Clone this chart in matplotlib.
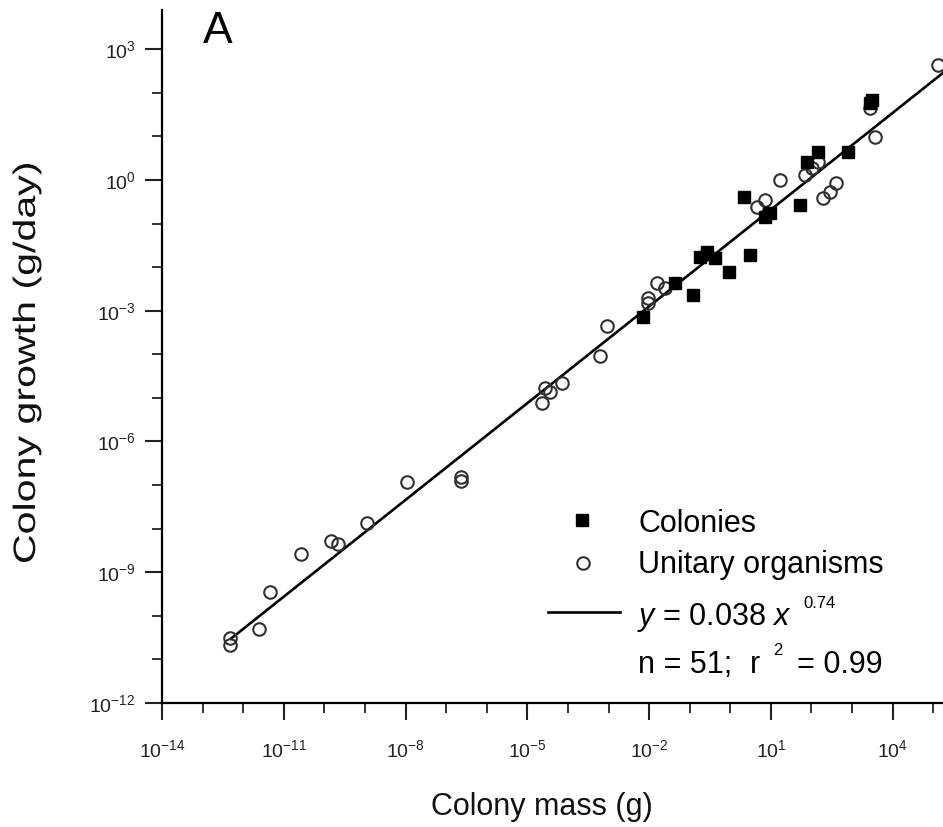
import numpy as np
import matplotlib
matplotlib.use("Agg")
import matplotlib.pyplot as plt
from matplotlib.ticker import FixedLocator, NullFormatter
from matplotlib.textpath import TextPath
from matplotlib.patches import PathPatch
from matplotlib.font_manager import FontProperties
from matplotlib.transforms import Affine2D

plt.rcParams['font.family'] = ['Liberation Sans', 'DejaVu Sans']
plt.rcParams['mathtext.fontset'] = 'custom'
plt.rcParams['mathtext.rm'] = 'Liberation Sans'
plt.rcParams['mathtext.it'] = 'Liberation Sans:italic'

# log10 of mass (g) and growth (g/day)
colony_log_mass = [-2.15, -1.36, -0.92, -0.75, -0.58, -0.38, -0.03, 0.33, 0.48,
                   0.85, 0.98, 1.71, 1.89, 2.16, 2.90, 3.44, 3.49]
colony_log_growth = [-3.15, -2.37, -2.64, -1.77, -1.66, -1.79, -2.11, -0.39, -1.72,
                     -0.85, -0.76, -0.58, 0.41, 0.64, 0.64, 1.76, 1.83]

unitary_log_mass = [-12.33, -12.33, -11.61, -11.34, -10.58, -9.84, -9.67, -8.95,
                    -7.97, -6.64, -6.64, -4.64, -4.57, -4.44, -4.15, -3.21, -3.04,
                    -2.03, -2.03, -1.81, -1.61, 0.66, 0.85, 1.22, 1.84, 2.01, 2.16,
                    2.28, 2.45, 2.60, 3.44, 3.56, 5.11]
unitary_log_growth = [-10.51, -10.67, -10.30, -9.45, -8.58, -8.28, -8.35, -7.87,
                      -6.93, -6.82, -6.91, -5.12, -4.78, -4.87, -4.66, -4.04, -3.35,
                      -2.71, -2.83, -2.37, -2.48, -0.62, -0.46, 0.00, 0.11, 0.27, 0.41,
                      -0.42, -0.28, -0.07, 1.65, 0.98, 2.63]

fit_coef = 0.038
fit_exp = 0.74
fit_log_mass_start = -12.3

x_major = [-14, -11, -8, -5, -2, 1, 4]
y_major = [-12, -9, -6, -3, 0, 3]

W, H = 943, 827


def fx(px):
    return px / W


def fy(py):
    # pixel rows counted from the top
    return 1 - py / H


fig = plt.figure(figsize=(W / 100, H / 100), dpi=100)
ax = fig.add_axes([fx(162), fy(703), 781 / W, 693 / H])
ax.set_xscale('log')
ax.set_yscale('log')
ax.set_xlim(1e-14, 10 ** 5.24)
ax.set_ylim(1e-12, 10 ** 3.9)

# fitted power law
fit_x = np.logspace(fit_log_mass_start, 5.24, 200)
ax.plot(fit_x, fit_coef * fit_x ** fit_exp, color='black', lw=1.9, zorder=2)

ax.plot(10.0 ** np.array(unitary_log_mass), 10.0 ** np.array(unitary_log_growth),
        'o', ms=9, mfc='none', mec='#303030', mew=1.5, zorder=3, clip_on=False)
ax.plot(10.0 ** np.array(colony_log_mass), 10.0 ** np.array(colony_log_growth),
        's', ms=8.5, color='black', zorder=4)

for side in ['top', 'right']:
    ax.spines[side].set_visible(False)
for side in ['left', 'bottom']:
    ax.spines[side].set_linewidth(1.6)

ax.xaxis.set_major_locator(FixedLocator([10.0 ** e for e in x_major]))
ax.xaxis.set_minor_locator(FixedLocator([10.0 ** e for e in range(-14, 6)]))
ax.yaxis.set_major_locator(FixedLocator([10.0 ** e for e in y_major]))
ax.yaxis.set_minor_locator(FixedLocator([10.0 ** e for e in range(-12, 4)]))
ax.xaxis.set_minor_formatter(NullFormatter())
ax.yaxis.set_minor_formatter(NullFormatter())
ax.set_xticklabels([r'$10^{%d}$' % e for e in x_major])
ax.set_yticklabels([r'$10^{%d}$' % e for e in y_major])
ax.tick_params(which='major', length=12, width=1.5, labelsize=14, colors='#222222')
ax.tick_params(which='minor', length=7, width=1.3, colors='#222222')
ax.tick_params(axis='x', which='major', pad=14)
ax.tick_params(axis='y', which='major', pad=7)

fig.text(fx(542), fy(815), 'Colony mass (g)', fontsize=22, ha='center',
         va='baseline', color='#111111')

# y label is drawn as a path so it can be stretched along its length
ylab = TextPath((0, 0), 'Colony growth (g/day)', size=31,
                prop=FontProperties(family='Liberation Sans'))
ext = ylab.get_extents()
ylab_tr = (Affine2D()
           .translate(-(ext.x0 + ext.x1) / 2, -(ext.y0 + ext.y1) / 2)
           .scale(398 / ext.width, 1)
           .rotate_deg(90)
           .translate(27, H - 363))
fig.add_artist(PathPatch(ylab, transform=ylab_tr, facecolor='#111111', lw=0))

fig.text(fx(203), fy(43), 'A', fontsize=32, ha='left', va='baseline')

# key
leg_fs = 22
ax.plot([0.538], [0.264], 's', ms=8.5, color='black', transform=ax.transAxes, clip_on=False)
ax.plot([0.539], [0.202], 'o', ms=9, mfc='none', mec='#303030', mew=1.5,
        transform=ax.transAxes, clip_on=False)
ax.plot([0.494, 0.586], [0.131, 0.131], color='black', lw=1.9, transform=ax.transAxes)
fig.text(fx(638), fy(532), 'Colonies', fontsize=leg_fs, va='baseline')
fig.text(fx(638), fy(573), 'Unitary organisms', fontsize=leg_fs, va='baseline')
fig.text(fx(637), fy(625), r'$y$ = 0.038 $x$', fontsize=leg_fs, va='baseline')
fig.text(fx(803), fy(608), '0.74', fontsize=12, va='baseline')
fig.text(fx(638), fy(673), 'n = 51;', fontsize=leg_fs, va='baseline')
fig.text(fx(750), fy(673), 'r', fontsize=leg_fs, va='baseline')
fig.text(fx(773), fy(655), '2', fontsize=12, va='baseline')
fig.text(fx(797), fy(673), '= 0.99', fontsize=leg_fs, va='baseline')

fig.savefig('out.png', dpi=100)
